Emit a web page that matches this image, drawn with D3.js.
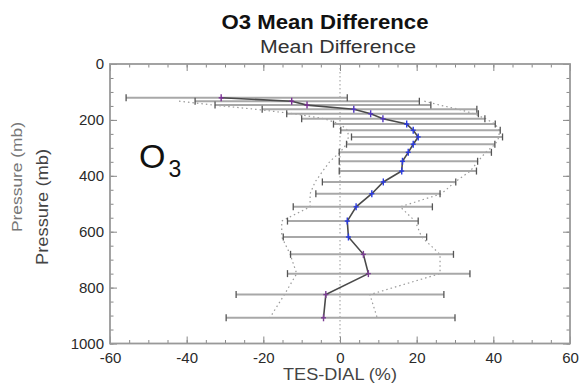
<!DOCTYPE html>
<html>
<head>
<meta charset="utf-8">
<script src="https://cdn.jsdelivr.net/npm/d3@7"></script>
<style>
  body { margin: 0; background: #fff; }
  svg { display: block; font-family: "Liberation Sans", Arial, sans-serif; }
</style>
</head>
<body>
<svg id="chart" width="580" height="388"></svg>
<script>
// ---- data ----
const pressureLevels = [121, 133, 147, 162, 178, 196, 215, 237, 261, 287, 316, 348, 383, 422, 464, 511, 562, 619, 681, 750, 825, 908];
const meanDiff   = [-31, -12.6, -8.6, 3.6, 8.0, 11.2, 17.4, 19.1, 20.4, 19.1, 17.8, 16.3, 16.1, 11.3, 8.3, 4.2, 1.9, 2.2, 6.1, 7.4, -3.7, -4.3];
const errLow     = [-55.8, -37.8, -32.6, -20.3, -13.9, -10.0, -1.7, 0.2, 3.0, 1.7, -0.2, -0.2, -0.2, -4.6, -6.3, -12.2, -13.7, -14.8, -12.9, -13.7, -27.1, -29.7];
const errHigh    = [1.9, 20.7, 23.7, 35.7, 36.1, 37.8, 40.5, 41.8, 42.4, 40.4, 39.5, 35.9, 35.6, 30.2, 26.1, 24.1, 20.4, 22.6, 29.6, 33.9, 27.1, 30.0];
const dottedLow  = [null, -42, -33, -22, -12, -4, 0, 2, 2.2, 1.7, 0, -2.6, -4.5, -6.5, -7.8, -7.8, -15.2, -15.2, -13, -11.3, -14.5, -18.3];
const dottedHigh = [null, 22, 26, 31, 35, 38, 40.5, 41.5, 41.5, 40.5, 38, 36, 34, 30, 26.5, 15.7, 19.6, 21.3, 26.1, 26.1, 7.8, 9.7];
const xTickValues = [-60, -40, -20, 0, 20, 40, 60];
const yTickValues = [0, 200, 400, 600, 800, 1000];
const titleText = "O3 Mean Difference";
const subtitleText = "Mean Difference";
const xLabel = "TES-DIAL (%)";
const yLabel = "Pressure (mb)";

// marker colours per level (style)
const markerColors = pressureLevels.map((p, i) =>
  i < 3 ? "#7a2f95" : i < 6 ? "#5236c0" : i < 18 ? "#2a3ae0" : "#7b3f93");

// ---- layout ----
const svg = d3.select("#chart");
const x = d3.scaleLinear().domain([-60, 60]).range([110, 570]);
const y = d3.scaleLinear().domain([0, 1000]).range([64, 343.5]);
const plainFmt = d => String(d).replace("\u2212", "-");

const rows = pressureLevels.map((p, i) => ({
  p, mean: meanDiff[i], lo: errLow[i], hi: errHigh[i],
  dl: dottedLow[i], dh: dottedHigh[i], color: markerColors[i]
}));

// titles
svg.append("text").attr("x", 325).attr("y", 29).attr("text-anchor", "middle")
  .attr("font-size", 19.5).attr("font-weight", "bold").attr("fill", "#111")
  .attr("textLength", 207).attr("lengthAdjust", "spacingAndGlyphs")
  .text(titleText);
svg.append("text").attr("x", 338).attr("y", 53).attr("text-anchor", "middle")
  .attr("font-size", 17.5).attr("fill", "#333")
  .attr("textLength", 156).attr("lengthAdjust", "spacingAndGlyphs")
  .text(subtitleText);

// axes
svg.append("g").attr("transform", `translate(0,${y(1000)})`)
  .call(d3.axisBottom(x).tickValues(xTickValues).tickSize(-7).tickPadding(9).tickFormat(plainFmt));
svg.append("g").attr("transform", `translate(0,${y(1000)})`)
  .call(d3.axisBottom(x).tickValues(d3.range(-60, 61, 5)).tickSize(-3.5).tickFormat(""));
svg.append("g").attr("transform", `translate(0,${y(0)})`)
  .call(d3.axisTop(x).tickValues(xTickValues).tickSize(-7).tickFormat(""));
svg.append("g").attr("transform", `translate(0,${y(0)})`)
  .call(d3.axisTop(x).tickValues(d3.range(-60, 61, 5)).tickSize(-3.5).tickFormat(""));

svg.append("g").attr("transform", `translate(${x(-60)},0)`)
  .call(d3.axisLeft(y).tickValues(yTickValues).tickSize(-7).tickPadding(6).tickFormat(plainFmt));
svg.append("g").attr("transform", `translate(${x(-60)},0)`)
  .call(d3.axisLeft(y).tickValues(d3.range(0, 1001, 50)).tickSize(-3.5).tickFormat(""));
svg.append("g").attr("transform", `translate(${x(60)},0)`)
  .call(d3.axisRight(y).tickValues(yTickValues).tickSize(-7).tickFormat(""));
svg.append("g").attr("transform", `translate(${x(60)},0)`)
  .call(d3.axisRight(y).tickValues(d3.range(0, 1001, 50)).tickSize(-3.5).tickFormat(""));

svg.selectAll(".domain").remove();
svg.selectAll(".tick line").attr("stroke", "#888").attr("stroke-width", 1);
svg.selectAll(".tick text").attr("font-size", 15).attr("fill", "#2a2a2a")
  .attr("font-family", "'Liberation Sans', Arial, sans-serif");

// frame
svg.append("rect").attr("x", x(-60)).attr("y", y(0))
  .attr("width", x(60) - x(-60)).attr("height", y(1000) - y(0))
  .attr("fill", "none").attr("stroke", "#999").attr("stroke-width", 1.8);

// zero line
svg.append("line").attr("x1", x(0)).attr("x2", x(0)).attr("y1", y(0)).attr("y2", y(1000))
  .attr("stroke", "#999").attr("stroke-width", 1).attr("stroke-dasharray", "1.5,2.5");

// dotted envelopes
const dLine = acc => d3.line().defined(d => acc(d) != null).x(d => x(acc(d))).y(d => y(d.p));
svg.append("path").datum(rows).attr("d", dLine(d => d.dl))
  .attr("fill", "none").attr("stroke", "#9a9a9a").attr("stroke-width", 1.2).attr("stroke-dasharray", "1.5,3");
svg.append("path").datum(rows).attr("d", dLine(d => d.dh))
  .attr("fill", "none").attr("stroke", "#9a9a9a").attr("stroke-width", 1.2).attr("stroke-dasharray", "1.5,3");

// error bars
const eb = svg.append("g");
eb.selectAll("line.bar").data(rows).join("line").attr("class", "bar")
  .attr("x1", d => x(d.lo)).attr("x2", d => x(d.hi))
  .attr("y1", d => y(d.p)).attr("y2", d => y(d.p))
  .attr("stroke", "#a8a8a8").attr("stroke-width", 2);
["lo", "hi"].forEach(k => {
  eb.selectAll("line.cap" + k).data(rows).join("line").attr("class", "cap" + k)
    .attr("x1", d => x(d[k])).attr("x2", d => x(d[k]))
    .attr("y1", d => y(d.p) - 3.5).attr("y2", d => y(d.p) + 3.5)
    .attr("stroke", "#555").attr("stroke-width", 1.3);
});

// mean line
svg.append("path").datum(rows)
  .attr("d", d3.line().x(d => x(d.mean)).y(d => y(d.p)))
  .attr("fill", "none").attr("stroke", "#4a4a4a").attr("stroke-width", 1.6);

// markers (+)
const mk = svg.append("g").selectAll("g").data(rows).join("g")
  .attr("transform", d => `translate(${x(d.mean)},${y(d.p)})`);
mk.append("line").attr("x1", -2.5).attr("x2", 2.5).attr("stroke", d => d.color).attr("stroke-width", 1.4);
mk.append("line").attr("y1", -3.5).attr("y2", 3.5).attr("stroke", d => d.color).attr("stroke-width", 1.4);

// O3 label
const o3 = svg.append("text").attr("x", 139).attr("y", 168).attr("fill", "#111");
o3.append("tspan").attr("font-size", 34).text("O");
o3.append("tspan").attr("font-size", 23).attr("dx", 3).attr("dy", 9).text("3");

// axis labels
svg.append("text").attr("x", 340).attr("y", 380).attr("text-anchor", "middle")
  .attr("font-size", 16.5).attr("fill", "#444")
  .attr("textLength", 114).attr("lengthAdjust", "spacingAndGlyphs").text(xLabel);
svg.append("text").attr("transform", "translate(22,177) rotate(-90)").attr("text-anchor", "middle")
  .attr("font-size", 15).attr("fill", "#777")
  .attr("textLength", 110).attr("lengthAdjust", "spacingAndGlyphs").text(yLabel);
svg.append("text").attr("transform", "translate(48,207) rotate(-90)").attr("text-anchor", "middle")
  .attr("font-size", 16).attr("fill", "#444")
  .attr("textLength", 116).attr("lengthAdjust", "spacingAndGlyphs").text(yLabel);
</script>
</body>
</html>
